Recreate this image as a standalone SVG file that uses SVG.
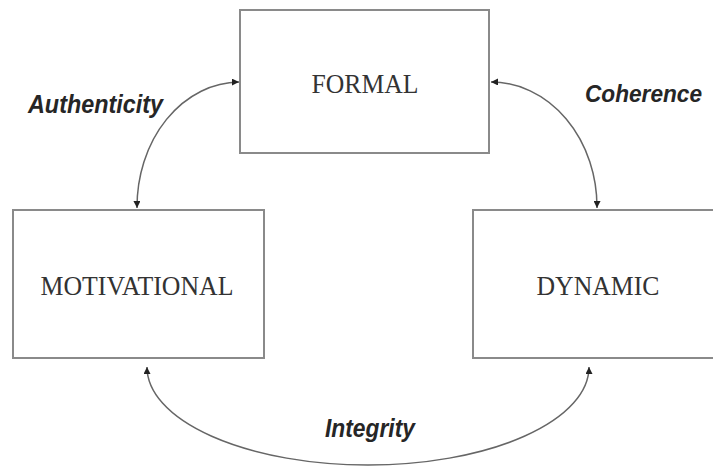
<svg xmlns="http://www.w3.org/2000/svg" width="713" height="470" viewBox="0 0 713 470">
<defs>
<style>
.box{fill:#fff;stroke:#8a8a8a;stroke-width:2}
.name{font-family:"Liberation Serif",serif;font-size:28px;fill:#333;text-anchor:middle}
.lbl{font-family:"Liberation Sans",Arial,sans-serif;font-size:25px;font-weight:bold;font-style:italic;fill:#262626}
.arc{fill:none;stroke:#666;stroke-width:1.5}
</style>
<marker id="ah" viewBox="0 0 10 10" refX="10" refY="5" markerWidth="7" markerHeight="7" orient="auto-start-reverse" markerUnits="userSpaceOnUse">
<path d="M0,0 L10,5 L0,10 z" fill="#222"/>
</marker>
</defs>
<rect width="713" height="470" fill="#fff"/>
<g id="formal">
<rect class="box" x="240" y="10" width="249" height="143"/>
<text class="name" x="365" y="93" textLength="107" lengthAdjust="spacingAndGlyphs">FORMAL</text>
</g>
<g id="motivational">
<rect class="box" x="13" y="210" width="251" height="148"/>
<text class="name" x="137" y="295" textLength="193" lengthAdjust="spacingAndGlyphs">MOTIVATIONAL</text>
</g>
<g id="dynamic">
<rect class="box" x="473" y="210" width="250" height="148"/>
<text class="name" x="598" y="295" textLength="123" lengthAdjust="spacingAndGlyphs">DYNAMIC</text>
</g>
<g id="connectors">
<path class="arc" d="M239,82 A103,125 0 0 0 137,208" marker-start="url(#ah)" marker-end="url(#ah)"/>
<path class="arc" d="M491,82 A106,125 0 0 1 597,208" marker-start="url(#ah)" marker-end="url(#ah)"/>
<path class="arc" d="M147,367 A221,98 0 0 0 589,367" marker-start="url(#ah)" marker-end="url(#ah)"/>
</g>
<g id="labels">
<text class="lbl" x="28" y="113" textLength="135" lengthAdjust="spacingAndGlyphs">Authenticity</text>
<text class="lbl" x="585" y="102" style="font-size:24px" textLength="117" lengthAdjust="spacingAndGlyphs">Coherence</text>
<text class="lbl" x="325" y="437" textLength="90" lengthAdjust="spacingAndGlyphs">Integrity</text>
</g>
</svg>
